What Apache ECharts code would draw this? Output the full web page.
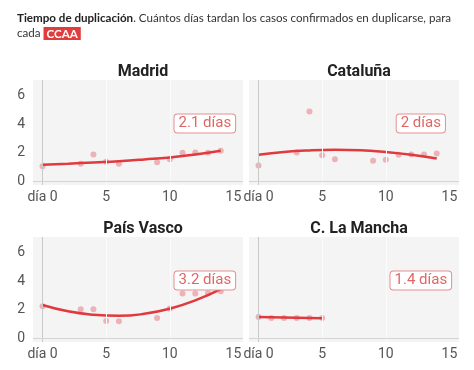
<!DOCTYPE html>
<html>
<head>
<meta charset="utf-8">
<script src="https://cdn.jsdelivr.net/npm/echarts@6/dist/echarts.min.js"></script>
<style>
html,body{margin:0;padding:0;background:#fff;}
#c{width:474px;height:370px;}
</style>
</head>
<body>
<div id="c"></div>
<script>
// ---- data ----
const panelNames = ['Madrid', 'Cataluña', 'País Vasco', 'C. La Mancha'];
const ptDays = [0, 3, 4, 5, 6, 9, 10, 11, 12, 13, 14];
const madridPts = [1.07, 1.23, 1.88, 1.37, 1.23, 1.35, 1.56, 2.0, 2.02, 2.0, 2.14];
const cataPts   = [1.12, 2.02, 4.9, 1.84, 1.56, 1.44, 1.51, 1.86, 1.88, 1.88, 1.95];
const pvPts     = [2.25, 2.04, 2.04, 1.22, 1.2, 1.43, 2.1, 3.14, 3.14, 3.16, 3.3];
const clmDays   = [0, 1, 2, 3, 4, 5];
const clmPts    = [1.5, 1.43, 1.43, 1.43, 1.43, 1.43];
const fitDays   = [0, 2, 4, 6, 8, 10, 12, 14];
const madridFit = [1.16, 1.24, 1.33, 1.42, 1.54, 1.68, 1.88, 2.14];
const cataFit   = [1.86, 2.06, 2.17, 2.21, 2.18, 2.06, 1.87, 1.6];
const pvFit     = [2.34, 1.9, 1.66, 1.58, 1.72, 2.08, 2.66, 3.45];
const clmFitDays = [0, 5];
const clmFit    = [1.5, 1.42];
const labels = ['2.1 días', '2 días', '3.2 días', '1.4 días'];
const xTicks = [0, 5, 10, 15];
const yTicks = [0, 2, 4, 6];

// ---- build ----
const FONT = 'Roboto, "Open Sans", sans-serif';
const TFONT = 'Lato, Roboto, sans-serif';
const TS = 11.6;
const panels = [
  { days: ptDays, pts: madridPts, fdays: fitDays, fit: madridFit },
  { days: ptDays, pts: cataPts, fdays: fitDays, fit: cataFit },
  { days: ptDays, pts: pvPts, fdays: fitDays, fit: pvFit },
  { days: clmDays, pts: clmPts, fdays: clmFitDays, fit: clmFit }
];
const gridPos = [
  { left: 33, top: 80 }, { left: 249, top: 80 },
  { left: 33, top: 237 }, { left: 249, top: 237 }
];
const GW = 210, GH = 105;
const zip = (a, b) => a.map((v, i) => [v, b[i]]);

const grid = [], xAxis = [], yAxis = [], series = [];
const title = [{
  left: 12, top: 6,
  text: '{b|Tiempo de duplicación}. Cuántos días tardan los casos confirmados en duplicarse, para\ncada {tag|CCAA}',
  textStyle: {
    fontFamily: TFONT, fontSize: TS, fontWeight: 'normal', color: '#333', lineHeight: 15,
    rich: {
      b: { fontFamily: TFONT, fontSize: TS, fontWeight: 'bold', color: '#222' },
      tag: { fontFamily: TFONT, fontSize: TS, fontWeight: 'bold', color: '#fff',
             backgroundColor: '#e23b3b', padding: [1, 3, 0, 3] }
    }
  }
}];

panels.forEach((p, i) => {
  const g = gridPos[i];
  const isLeft = (i % 2 === 0);
  grid.push({ left: g.left, top: g.top, width: GW, height: GH, show: true,
              backgroundColor: '#f4f4f4', borderWidth: 0 });
  title.push({ text: panelNames[i], left: g.left + GW / 2, top: g.top - 21, textAlign: 'center',
               textStyle: { fontFamily: FONT, fontSize: 16, fontWeight: 'bold', color: '#222' } });
  xAxis.push({
    type: 'value', gridIndex: i, min: -0.75, max: 15.75,
    axisLine: { show: false }, axisTick: { show: false }, splitLine: { show: false },
    axisLabel: { customValues: xTicks, formatter: v => v === 0 ? 'día 0' : String(v),
                 color: '#555', fontSize: 14, fontFamily: FONT, margin: 5 }
  });
  yAxis.push({
    type: 'value', gridIndex: i, min: -0.25, max: 7.1,
    axisLine: { show: false }, axisTick: { show: false }, splitLine: { show: false },
    axisLabel: { show: isLeft, customValues: yTicks, color: '#555', fontSize: 14, fontFamily: FONT, margin: 8 }
  });
  // gridlines + axis lines
  series.push({
    type: 'line', xAxisIndex: i, yAxisIndex: i, data: [], silent: true, z: 1,
    markLine: {
      silent: true, symbol: 'none', label: { show: false }, animation: false,
      data: [
        { xAxis: 5, lineStyle: { color: '#fbfbfb', width: 1, type: 'solid' } },
        { xAxis: 10, lineStyle: { color: '#fbfbfb', width: 1, type: 'solid' } },
        { xAxis: 0, lineStyle: { color: '#c9c9c9', width: 1, type: 'solid' } },
        { yAxis: 0, lineStyle: { color: '#d4d4d4', width: 1, type: 'solid' } }
      ]
    }
  });
  series.push({
    type: 'scatter', xAxisIndex: i, yAxisIndex: i, z: 2, symbolSize: 6,
    itemStyle: { color: '#eaa1a7' }, data: zip(p.days, p.pts)
  });
  series.push({
    type: 'line', xAxisIndex: i, yAxisIndex: i, z: 3, smooth: true, showSymbol: false,
    lineStyle: { color: '#e0393e', width: 2.5 }, data: zip(p.fdays, p.fit)
  });
  series.push({
    type: 'scatter', xAxisIndex: i, yAxisIndex: i, z: 10, symbolSize: 1,
    itemStyle: { color: '#ffffff', opacity: 1 }, silent: true,
    label: {
      show: true, position: 'inside', formatter: labels[i],
      fontFamily: FONT, fontSize: 15, color: '#e06666', opacity: 1,
      backgroundColor: '#ffffff', borderColor: '#e48f8f', borderWidth: 1, borderRadius: 3,
      padding: [2, 4, 1, 4]
    },
    data: [[12.75, 4.05]]
  });
});

const chart = echarts.init(document.getElementById('c'), null, { renderer: 'canvas' });
chart.setOption({ animation: false, title, grid, xAxis, yAxis, series });
</script>
</body>
</html>
